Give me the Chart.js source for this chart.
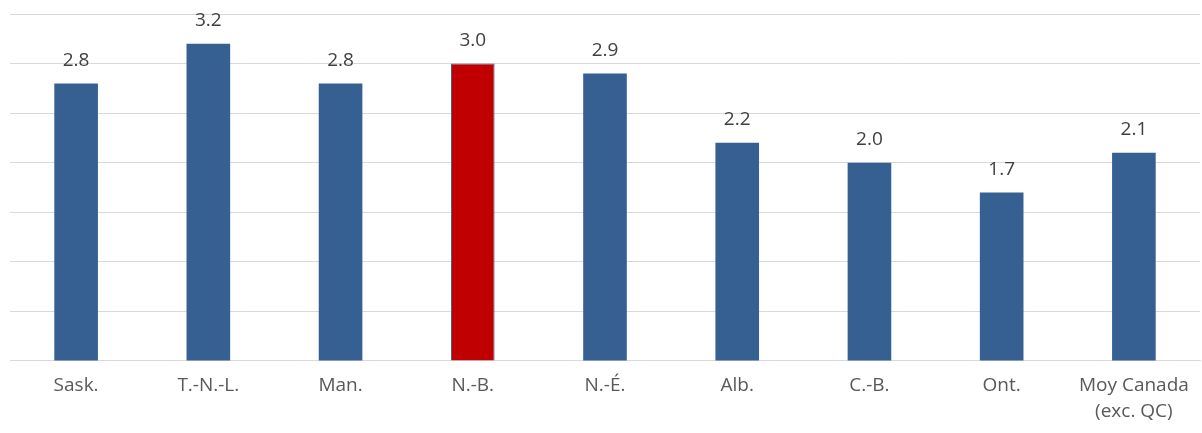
<!DOCTYPE html>
<html>
<head>
<meta charset="utf-8">
<script src="https://cdn.jsdelivr.net/npm/chart.js@4"></script>
<style>
  html, body { margin: 0; padding: 0; background: #fff; }
  #wrap { width: 1202px; height: 433px; position: relative; }
</style>
</head>
<body>
<div id="wrap"><canvas id="chart"></canvas></div>
<script>
const categories = ['Sask.', 'T.-N.-L.', 'Man.', 'N.-B.', 'N.-É.', 'Alb.', 'C.-B.', 'Ont.', ['Moy Canada', '(exc. QC)']];
const values = [2.8, 3.2, 2.8, 3.0, 2.9, 2.2, 2.0, 1.7, 2.1];
const highlight = 'N.-B.';

const blue = '#366092';
const red = '#C00000';
const barColors = categories.map(c => c === highlight ? red : blue);
const fontFamily = '"Open Sans", Lato, sans-serif';

// draws the value above each bar
const valueLabels = {
    id: 'valueLabels',
    afterDatasetsDraw(chart) {
        const ctx = chart.ctx;
        const meta = chart.getDatasetMeta(0);
        ctx.save();
        ctx.font = '19px ' + fontFamily;
        ctx.fillStyle = '#404040';
        ctx.textAlign = 'center';
        ctx.textBaseline = 'middle';
        meta.data.forEach((bar, i) => {
            ctx.fillText(values[i].toFixed(1), bar.x, bar.y - 23);
        });
        ctx.restore();
    }
};

new Chart(document.getElementById('chart'), {
    type: 'bar',
    data: {
        labels: categories,
        datasets: [{
            data: values,
            backgroundColor: barColors,
            borderColor: blue,
            borderWidth: categories.map(c => c === highlight ? 1 : 0),
            barPercentage: 1,
            categoryPercentage: 0.33
        }]
    },
    options: {
        responsive: true,
        maintainAspectRatio: false,
        animation: false,
        layout: { padding: { left: 10, right: 2, top: 14, bottom: 4 } },
        plugins: {
            legend: { display: false },
            tooltip: { enabled: false }
        },
        scales: {
            x: {
                grid: { display: false },
                border: { color: '#d9d9d9' },
                ticks: {
                    color: '#595959',
                    font: { family: fontFamily, size: 19, lineHeight: 1.37 },
                    padding: 4,
                    maxRotation: 0,
                    autoSkip: false
                }
            },
            y: {
                min: 0,
                max: 3.5,
                ticks: { display: false, stepSize: 0.5 },
                grid: { color: '#d9d9d9', lineWidth: 1, drawTicks: false },
                border: { display: false }
            }
        }
    },
    plugins: [valueLabels]
});
</script>
</body>
</html>
